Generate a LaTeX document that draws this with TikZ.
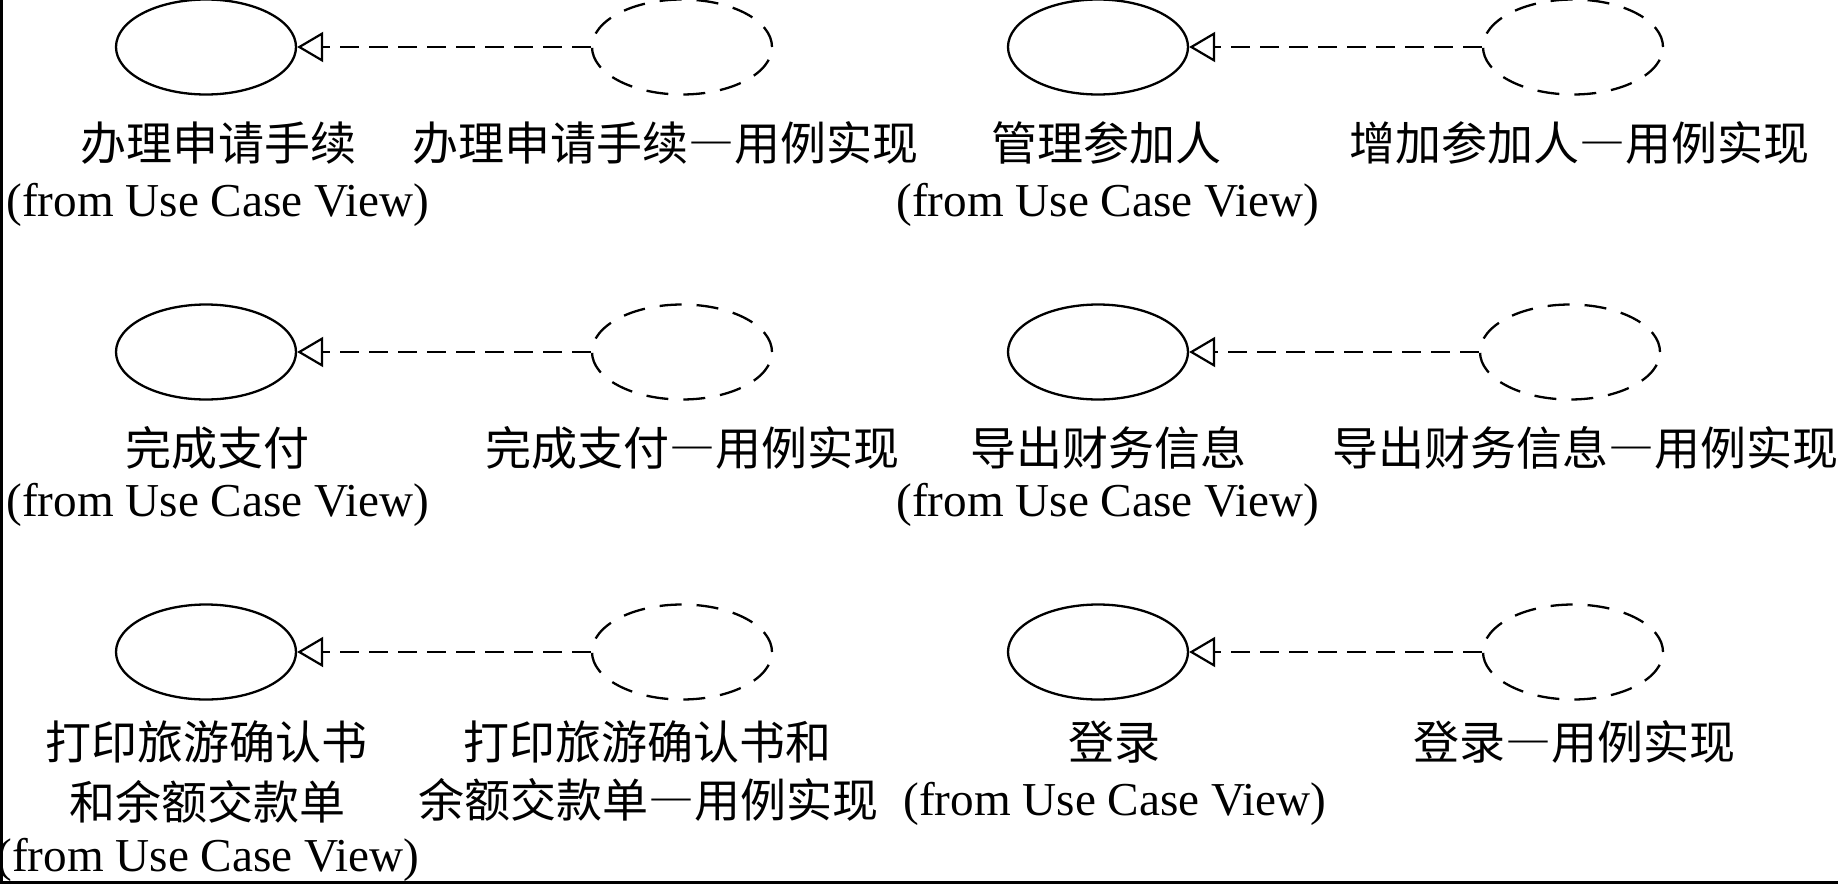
\documentclass[tikz,border=0pt]{standalone}
\usepackage{fontspec}
\setmainfont{Liberation Serif}
\newfontfamily\cjk{Noto Sans CJK SC}
\newcommand\fwdash{{\addfontfeature{RawFeature=+fwid}—}}
\usetikzlibrary{shapes.geometric,arrows.meta}
\tikzset{
  uc/.style={ellipse, draw, line width=1.15pt, minimum width=90pt, minimum height=47.5pt, inner sep=0pt},
  ucr/.style={uc, dash pattern=on 11pt off 7.5pt},
  dep/.style={line width=1.2pt, dash pattern=on 9.5pt off 5pt,
    -{Triangle[open,length=13pt,width=15pt,line width=1.1pt]}},
  lbl/.style={anchor=base, inner sep=0pt, font=\fontsize{23.6pt}{28pt}\selectfont},
  clbl/.style={anchor=base, inner sep=0pt, font=\fontsize{23pt}{28pt}\selectfont\cjk},
}
\begin{document}
\begin{tikzpicture}[x=0.5pt,y=-0.5pt]
\useasboundingbox (0,0) rectangle (1838,884);
\draw[line width=1.4pt] (1.5,0) -- (1.5,882.5) -- (1838,882.5);

% row 1
\node[uc]  (s1) at (206,47) {};
\node[ucr] (d1) at (682,47) {};
\node[uc]  (s2) at (1098,47) {};
\node[ucr] (d2) at (1573,47) {};
\draw[dep] (d1.west) -- (s1.east);
\draw[dep] (d2.west) -- (s2.east);
\node[clbl] (t1a) at (218,160.5) {办理申请手续};
\node[lbl]  (t1b) at (218,216.5) {(from Use Case View)};
\node[clbl] (r1)  at (665,160.5) {办理申请手续\fwdash 用例实现};
\node[clbl] (t2a) at (1106,160.5) {管理参加人};
\node[lbl]  (t2b) at (1108,216.5) {(from Use Case View)};
\node[clbl] (r2)  at (1579,160.5) {增加参加人\fwdash 用例实现};

% row 2
\node[uc]  (s3) at (206,352) {};
\node[ucr] (d3) at (682,352) {};
\node[uc]  (s4) at (1098,352) {};
\node[ucr] (d4) at (1570,352) {};
\draw[dep] (d3.west) -- (s3.east);
\draw[dep] (d4.west) -- (s4.east);
\node[clbl] (t3a) at (217,465.5) {完成支付};
\node[lbl]  (t3b) at (218,516.5) {(from Use Case View)};
\node[clbl] (r3)  at (692,465.5) {完成支付\fwdash 用例实现};
\node[clbl] (t4a) at (1108,465.5) {导出财务信息};
\node[lbl]  (t4b) at (1108,516.5) {(from Use Case View)};
\node[clbl] (r4)  at (1585,465.5) {导出财务信息\fwdash 用例实现};

% row 3
\node[uc]  (s5) at (206,652) {};
\node[ucr] (d5) at (682,652) {};
\node[uc]  (s6) at (1098,652) {};
\node[ucr] (d6) at (1573,652) {};
\draw[dep] (d5.west) -- (s5.east);
\draw[dep] (d6.west) -- (s6.east);
\node[clbl] (t5a) at (207,759.5) {打印旅游确认书};
\node[clbl] (t5b) at (207,819.5) {和余额交款单};
\node[lbl]  (t5c) at (208,871.5) {(from Use Case View)};
\node[clbl] (r5a) at (647,759.5) {打印旅游确认书和};
\node[clbl] (r5b) at (648,817.5) {余额交款单\fwdash 用例实现};
\node[clbl] (t6a) at (1114,759.5) {登录};
\node[lbl]  (t6b) at (1115,815.5) {(from Use Case View)};
\node[clbl] (r6)  at (1574,759.5) {登录\fwdash 用例实现};
\end{tikzpicture}
\end{document}
